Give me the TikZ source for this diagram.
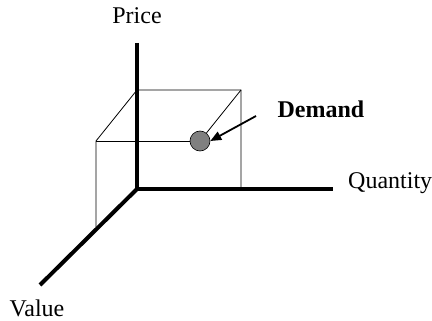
\documentclass[tikz,border=0pt]{standalone}
\usepackage{fontspec}
\setmainfont{Liberation Serif}
\usetikzlibrary{arrows.meta}
\begin{document}
\begin{tikzpicture}[x=1pt,y=-1pt,
  axis/.style={line width=4pt},
  edge/.style={line width=0.8pt},
  lbl/.style={font=\fontsize{24}{27}\selectfont, inner sep=0pt},
  ball/.style={circle, draw=black, line width=0.6pt, fill=gray, minimum size=20pt, inner sep=0pt}]
\useasboundingbox (0,0) rectangle (432,321);
\coordinate (O) at (137,189);
\coordinate (P) at (137,43);
\coordinate (Q) at (333,189);
\coordinate (V) at (40,285);
\coordinate (BTL) at (137,90);
\coordinate (BTR) at (241,90);
\coordinate (BBR) at (241,189);
\coordinate (FTL) at (96,141);
\coordinate (FBL) at (96,227);
\coordinate (AS) at (256,116);
% thin box edges
\draw[edge] (FBL) -- (FTL) -- (BTL) -- (BTR) -- (BBR);
\node[ball] (D) at (200,141) {};
\draw[edge] (FTL) -- (D.west);
\draw[edge] (D) -- (BTR);
% axes
\draw[axis] (P) -- (O) -- (Q);
\draw[axis] (O) -- (V);
% labels
\node[lbl] (price) at (137,16) {Price};
\node[lbl, anchor=west] (qty) at (348,183) {Quantity};
\node[lbl] (value) at (37,308) {Value};
\node[lbl, font=\fontsize{24}{27}\selectfont\bfseries] (dem) at (321,109) {Demand};
\draw[line width=1.8pt, -{Triangle[length=11pt,width=9pt]}] (AS) -- (D.east);
\end{tikzpicture}
\end{document}
